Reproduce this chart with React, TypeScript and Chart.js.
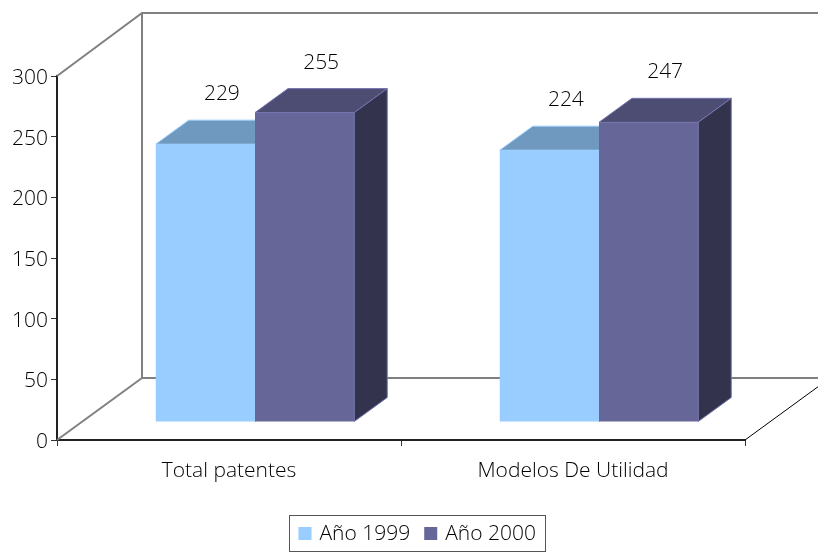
import React, { useEffect, useRef } from 'react';
import { Chart, registerables } from 'chart.js';

Chart.register(...registerables);

// ---- data ----
const categories = ['Total patentes', 'Modelos De Utilidad'];
const seriesNames = ['Año 1999', 'Año 2000'];
const values1999 = [229, 224];
const values2000 = [255, 247];
const yTicks = [0, 50, 100, 150, 200, 250, 300];

// ---- style ----
const FONT = "'Open Sans', 'Noto Sans', sans-serif";
const FONT_SIZE = 21;
const FONT_WEIGHT = 300;
const FRONT = ['#99CCFF', '#666699'];
const TOP = ['#7099BF', '#4D4D73'];
const SIDE = ['#4D6680', '#33334D'];
const EDGE = ['#99CCFF', '#7474B0'];

const WALL_DX = 85;
const WALL_DY = 63;
const BAR_DX = 26;
const BAR_DY = 18;
const DEPTH_DX = 33;
const DEPTH_DY = 24;

function drawFaces(chart: any, i: number) {
  const ctx = chart.ctx;
  const meta = chart.getDatasetMeta(i);
  ctx.save();
  meta.data.forEach((el: any) => {
    const p = el.getProps(['x', 'y', 'base', 'width'], true);
    const l = p.x - p.width / 2 + BAR_DX;
    const r = p.x + p.width / 2 + BAR_DX;
    const t = p.y - BAR_DY;
    const b = p.base - BAR_DY;
    ctx.lineWidth = 1;
    ctx.strokeStyle = EDGE[i];
    // top face
    ctx.fillStyle = TOP[i];
    ctx.beginPath();
    ctx.moveTo(l, t);
    ctx.lineTo(l + DEPTH_DX, t - DEPTH_DY);
    ctx.lineTo(r + DEPTH_DX, t - DEPTH_DY);
    ctx.lineTo(r, t);
    ctx.closePath();
    ctx.fill();
    ctx.stroke();
    // side face
    ctx.fillStyle = SIDE[i];
    ctx.beginPath();
    ctx.moveTo(r, t);
    ctx.lineTo(r + DEPTH_DX, t - DEPTH_DY);
    ctx.lineTo(r + DEPTH_DX, b - DEPTH_DY);
    ctx.lineTo(r, b);
    ctx.closePath();
    ctx.fill();
    ctx.stroke();
  });
  ctx.restore();
}

const threeDPlugin = {
  id: 'threeD',
  beforeDatasetsDraw(chart: any) {
    const { ctx, chartArea: a } = chart;
    ctx.save();
    ctx.strokeStyle = '#808080';
    ctx.lineWidth = 2;
    ctx.beginPath();
    ctx.moveTo(a.left, a.top);
    ctx.lineTo(a.left + WALL_DX, a.top - WALL_DY);
    ctx.lineTo(a.right + WALL_DX, a.top - WALL_DY);
    ctx.moveTo(a.left + WALL_DX, a.top - WALL_DY);
    ctx.lineTo(a.left + WALL_DX, a.bottom - WALL_DY + 1);
    ctx.lineTo(a.right + WALL_DX, a.bottom - WALL_DY + 1);
    ctx.moveTo(a.left, a.bottom);
    ctx.lineTo(a.left + WALL_DX, a.bottom - WALL_DY + 1);
    ctx.stroke();
    ctx.strokeStyle = '#000';
    ctx.lineWidth = 1;
    ctx.beginPath();
    ctx.moveTo(a.right, a.bottom);
    ctx.lineTo(a.right + WALL_DX, a.bottom - WALL_DY + 1);
    ctx.stroke();
    ctx.restore();

    const n = chart.data.datasets.length;
    for (let i = 0; i < n - 1; i++) drawFaces(chart, i);
    ctx.save();
    ctx.translate(BAR_DX, -BAR_DY);
  },
  afterDatasetsDraw(chart: any) {
    const ctx = chart.ctx;
    ctx.restore();
    const n = chart.data.datasets.length;
    drawFaces(chart, n - 1);

    // value labels
    ctx.save();
    ctx.font = `${FONT_WEIGHT} ${FONT_SIZE}px ${FONT}`;
    ctx.fillStyle = '#000';
    ctx.textAlign = 'center';
    ctx.textBaseline = 'middle';
    for (let i = 0; i < n; i++) {
      const meta = chart.getDatasetMeta(i);
      meta.data.forEach((el: any, j: number) => {
        const p = el.getProps(['x', 'y'], true);
        const v = chart.data.datasets[i].data[j];
        ctx.fillText(String(v), p.x + BAR_DX + DEPTH_DX / 2, p.y - BAR_DY - 50);
      });
    }
    ctx.restore();
  },
  afterDraw(chart: any) {
    const ctx = chart.ctx;
    ctx.save();
    ctx.font = `${FONT_WEIGHT} ${FONT_SIZE}px ${FONT}`;
    const sw = 13;
    const gapAfterSwatch = 8;
    const itemGap = 14;
    const padL = 9;
    const padR = 10;
    const widths = chart.data.datasets.map((d: any) => ctx.measureText(d.label).width);
    let total = padL + padR;
    widths.forEach((w: number, k: number) => {
      total += sw + gapAfterSwatch + w + (k > 0 ? itemGap : 0);
    });
    const boxH = 36;
    const cx = chart.width / 2 + 8;
    const boxL = Math.round(cx - total / 2) + 0.5;
    const boxT = 515.5;
    ctx.strokeStyle = '#555';
    ctx.lineWidth = 1;
    ctx.strokeRect(boxL, boxT, Math.round(total), boxH);
    let x = boxL + padL;
    const cy = boxT + boxH / 2;
    ctx.textBaseline = 'middle';
    ctx.textAlign = 'left';
    chart.data.datasets.forEach((d: any, k: number) => {
      if (k > 0) x += itemGap;
      ctx.fillStyle = d.backgroundColor;
      ctx.fillRect(x, cy - sw / 2, sw, sw);
      x += sw + gapAfterSwatch;
      ctx.fillStyle = '#000';
      ctx.fillText(d.label, x, cy + 1);
      x += widths[k];
    });
    ctx.restore();
  },
};

export default function App() {
  const ref = useRef<HTMLCanvasElement | null>(null);
  useEffect(() => {
    if (!ref.current) return;
    const chart = new Chart(ref.current, {
      type: 'bar',
      data: {
        labels: categories,
        datasets: [
          { label: seriesNames[0], data: values1999, backgroundColor: FRONT[0], borderWidth: 0 },
          { label: seriesNames[1], data: values2000, backgroundColor: FRONT[1], borderWidth: 0 },
        ],
      },
      options: {
        animation: false,
        responsive: true,
        maintainAspectRatio: false,
        events: [],
        layout: { padding: { top: 76, right: 73, left: 0, bottom: 0 } },
        datasets: { bar: { categoryPercentage: 0.577, barPercentage: 1 } },
        plugins: { legend: { display: false }, tooltip: { enabled: false } },
        scales: {
          x: {
            type: 'category',
            grid: { drawOnChartArea: false, tickLength: 6, color: '#333', offset: true },
            border: { display: true, color: '#222', width: 2 },
            ticks: { color: '#000', font: { family: FONT, size: FONT_SIZE, weight: FONT_WEIGHT }, padding: 12, maxRotation: 0 },
            afterFit: (s: any) => { s.height = 114; },
          },
          y: {
            min: 0,
            max: 300,
            grid: { drawOnChartArea: false, tickLength: 6, color: '#333' },
            border: { display: true, color: '#222', width: 2 },
            ticks: { color: '#000', font: { family: FONT, size: FONT_SIZE, weight: FONT_WEIGHT }, padding: 3, stepSize: 50, labelOffset: 2 },
            afterBuildTicks: (s: any) => { s.ticks = yTicks.map((v) => ({ value: v })); },
            afterFit: (s: any) => { s.width = 57; },
          },
        },
      },
      plugins: [threeDPlugin],
    } as any);
    return () => chart.destroy();
  }, []);
  return (
    <div style={{ position: 'fixed', left: 0, top: 0, width: 818, height: 554, background: '#fff' }}>
      <canvas ref={ref} />
    </div>
  );
}
